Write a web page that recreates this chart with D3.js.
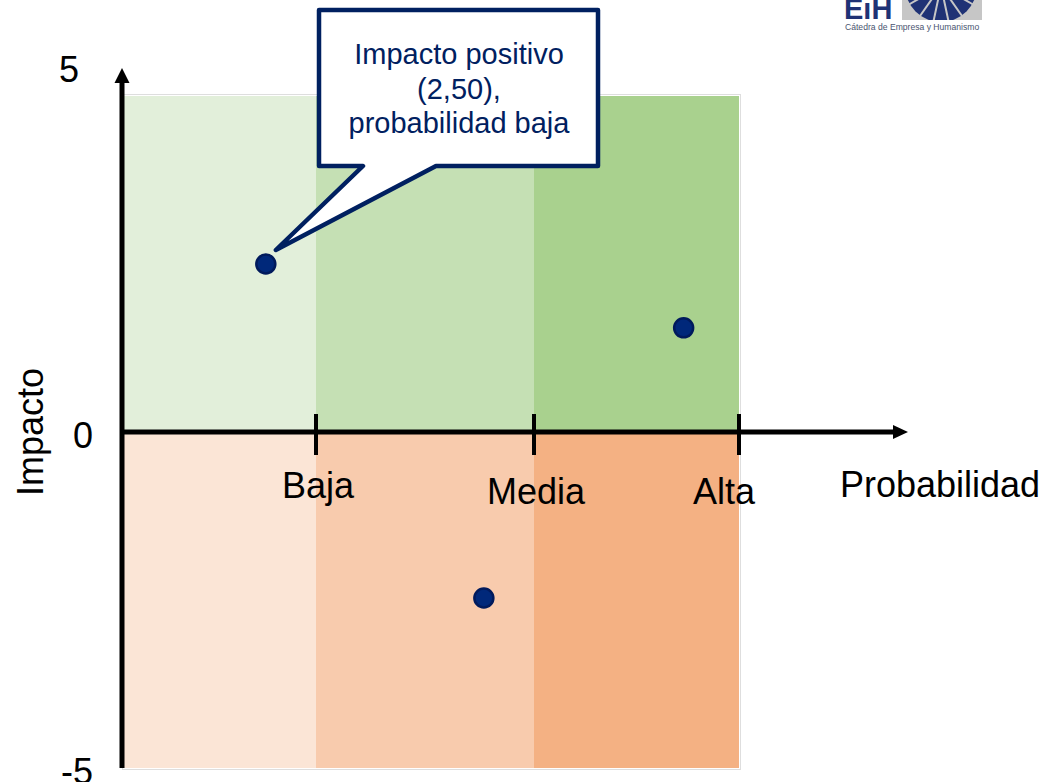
<!DOCTYPE html>
<html>
<head>
<meta charset="utf-8">
<script src="https://cdn.jsdelivr.net/npm/d3@7"></script>
<style>
  body { margin: 0; background: #fff; }
  text { font-family: "Liberation Sans", Arial, sans-serif; }
</style>
</head>
<body>
<svg id="matriz" width="1054" height="782"></svg>
<script>
// categorias de probabilidad y sus limites en el eje x
var categorias = ["Baja", "Media", "Alta"];
var limitesProb = [0, 1, 2, 3];
var impactoTicks = [5, 0, -5];

// riesgos (probabilidad, impacto)
var probPuntos = [0.74, 2.73, 1.77];
var impactoPuntos = [2.5, 1.55, -2.47];

var coloresPositivo = ["#e2efda", "#c5e0b4", "#a9d18e"];
var coloresNegativo = ["#fbe5d6", "#f8cbad", "#f4b183"];

var textoGlobo = ["Impacto positivo", "(2,50),", "probabilidad baja"];

var svg = d3.select("#matriz");
var navy = "#002060";

var x = d3.scaleLinear()
    .domain(limitesProb)
    .range([123, 316, 534, 739]);
var y = d3.scaleLinear()
    .domain([-5, 5])
    .range([768, 96]);

// celdas de fondo
var celdas = [];
categorias.forEach(function(c, i) {
  celdas.push({x0: limitesProb[i], x1: limitesProb[i + 1], y0: 0, y1: 5, color: coloresPositivo[i]});
  celdas.push({x0: limitesProb[i], x1: limitesProb[i + 1], y0: -5, y1: 0, color: coloresNegativo[i]});
});

svg.append("rect")
    .attr("x", x(0) - 0.5)
    .attr("y", y(5) - 1.5)
    .attr("width", x(3) - x(0) + 2)
    .attr("height", y(-5) - y(5) + 3)
    .attr("fill", "none")
    .attr("stroke", "#dedede")
    .attr("stroke-width", 1);

svg.selectAll("rect.celda")
    .data(celdas)
  .enter().append("rect")
    .attr("class", "celda")
    .attr("x", function(d) { return x(d.x0); })
    .attr("y", function(d) { return y(d.y1); })
    .attr("width", function(d) { return x(d.x1) - x(d.x0); })
    .attr("height", function(d) { return y(d.y0) - y(d.y1); })
    .attr("fill", function(d) { return d.color; });

// ejes con flecha
var ejes = svg.append("g");
ejes.append("line")
    .attr("x1", x(0) - 1).attr("x2", x(0) - 1)
    .attr("y1", y(-5)).attr("y2", y(5) - 14)
    .attr("stroke", "#000").attr("stroke-width", 5);
ejes.append("path")
    .attr("d", "M" + (x(0) - 1) + "," + (y(5) - 28) + " l7.5,15 h-15 Z")
    .attr("fill", "#000");

ejes.append("line")
    .attr("x1", x(0) - 3).attr("x2", x(3) + 155)
    .attr("y1", y(0)).attr("y2", y(0))
    .attr("stroke", "#000").attr("stroke-width", 5);
ejes.append("path")
    .attr("d", "M" + (x(3) + 169) + "," + y(0) + " l-15,-7 v14 Z")
    .attr("fill", "#000");

ejes.selectAll("line.tick")
    .data(limitesProb.slice(1))
  .enter().append("line")
    .attr("class", "tick")
    .attr("x1", function(d) { return x(d); })
    .attr("x2", function(d) { return x(d); })
    .attr("y1", y(0) - 18)
    .attr("y2", y(0) + 23)
    .attr("stroke", "#000")
    .attr("stroke-width", 4);

// etiquetas
svg.selectAll("text.cat")
    .data(categorias)
  .enter().append("text")
    .attr("class", "cat")
    .attr("x", function(d, i) { return x(i + 1) + (i == categorias.length - 1 ? 16 : 2); })
    .attr("y", function(d, i) { return i == 0 ? y(0) + 66 : y(0) + 72; })
    .attr("text-anchor", function(d, i) { return i == categorias.length - 1 ? "end" : "middle"; })
    .attr("font-size", 36)
    .text(function(d) { return d; });

svg.selectAll("text.ytick")
    .data(impactoTicks)
  .enter().append("text")
    .attr("class", "ytick")
    .attr("x", function(d) { return d == 5 ? 79 : 93; })
    .attr("y", function(d) { return d == 5 ? y(d) - 14 : y(d) + 16; })
    .attr("text-anchor", "end")
    .attr("font-size", 36)
    .text(function(d) { return d; });

svg.append("text")
    .attr("x", 840)
    .attr("y", y(0) + 65)
    .attr("font-size", 36)
    .text("Probabilidad");

svg.append("text")
    .attr("transform", "translate(43," + y(0) + ") rotate(-90)")
    .attr("text-anchor", "middle")
    .attr("font-size", 36)
    .text("Impacto");

// puntos
svg.selectAll("circle.riesgo")
    .data(probPuntos)
  .enter().append("circle")
    .attr("class", "riesgo")
    .attr("cx", function(d) { return x(d); })
    .attr("cy", function(d, i) { return y(impactoPuntos[i]); })
    .attr("r", 9.5)
    .attr("fill", "#00287a")
    .attr("stroke", "#001a5c")
    .attr("stroke-width", 2.5);

// globo de texto
var px = x(probPuntos[0]) + 10, py = y(impactoPuntos[0]) - 14;
svg.append("path")
    .attr("d", "M319,10 H598 V166 H436 L" + px + "," + py + " L363,166 H319 Z")
    .attr("fill", "#fff")
    .attr("stroke", navy)
    .attr("stroke-width", 4.5)
    .attr("stroke-linejoin", "round");

svg.selectAll("text.globo")
    .data(textoGlobo)
  .enter().append("text")
    .attr("class", "globo")
    .attr("x", 459)
    .attr("y", function(d, i) { return 64 + i * 34.5; })
    .attr("text-anchor", "middle")
    .attr("font-size", 29)
    .attr("fill", navy)
    .text(function(d) { return d; });

// logo
var logo = svg.append("g");
logo.append("text")
    .attr("x", 844).attr("y", 19)
    .attr("font-size", 29).attr("font-weight", "bold")
    .attr("fill", "#1f3275")
    .text("EiH");
logo.append("clipPath").attr("id", "clipLogo")
  .append("rect").attr("x", 902).attr("y", 0).attr("width", 80).attr("height", 20);
logo.append("rect")
    .attr("x", 902).attr("y", 0).attr("width", 80).attr("height", 20)
    .attr("fill", "#c6c6c6");
var fan = logo.append("g").attr("clip-path", "url(#clipLogo)");
fan.append("circle")
    .attr("cx", 941).attr("cy", -14).attr("r", 36)
    .attr("fill", "#1f3275");
[-60, -35, -12, 12, 35, 60].forEach(function(a) {
  var r = a * Math.PI / 180;
  fan.append("line")
      .attr("x1", 941).attr("y1", -14)
      .attr("x2", 941 + 40 * Math.sin(r)).attr("y2", -14 + 40 * Math.cos(r))
      .attr("stroke", "#c6c6c6").attr("stroke-width", 2);
});
logo.append("text")
    .attr("x", 845).attr("y", 30)
    .attr("font-size", 8.6)
    .attr("fill", "#4a5570")
    .text("Cátedra de Empresa y Humanismo");
</script>
</body>
</html>
